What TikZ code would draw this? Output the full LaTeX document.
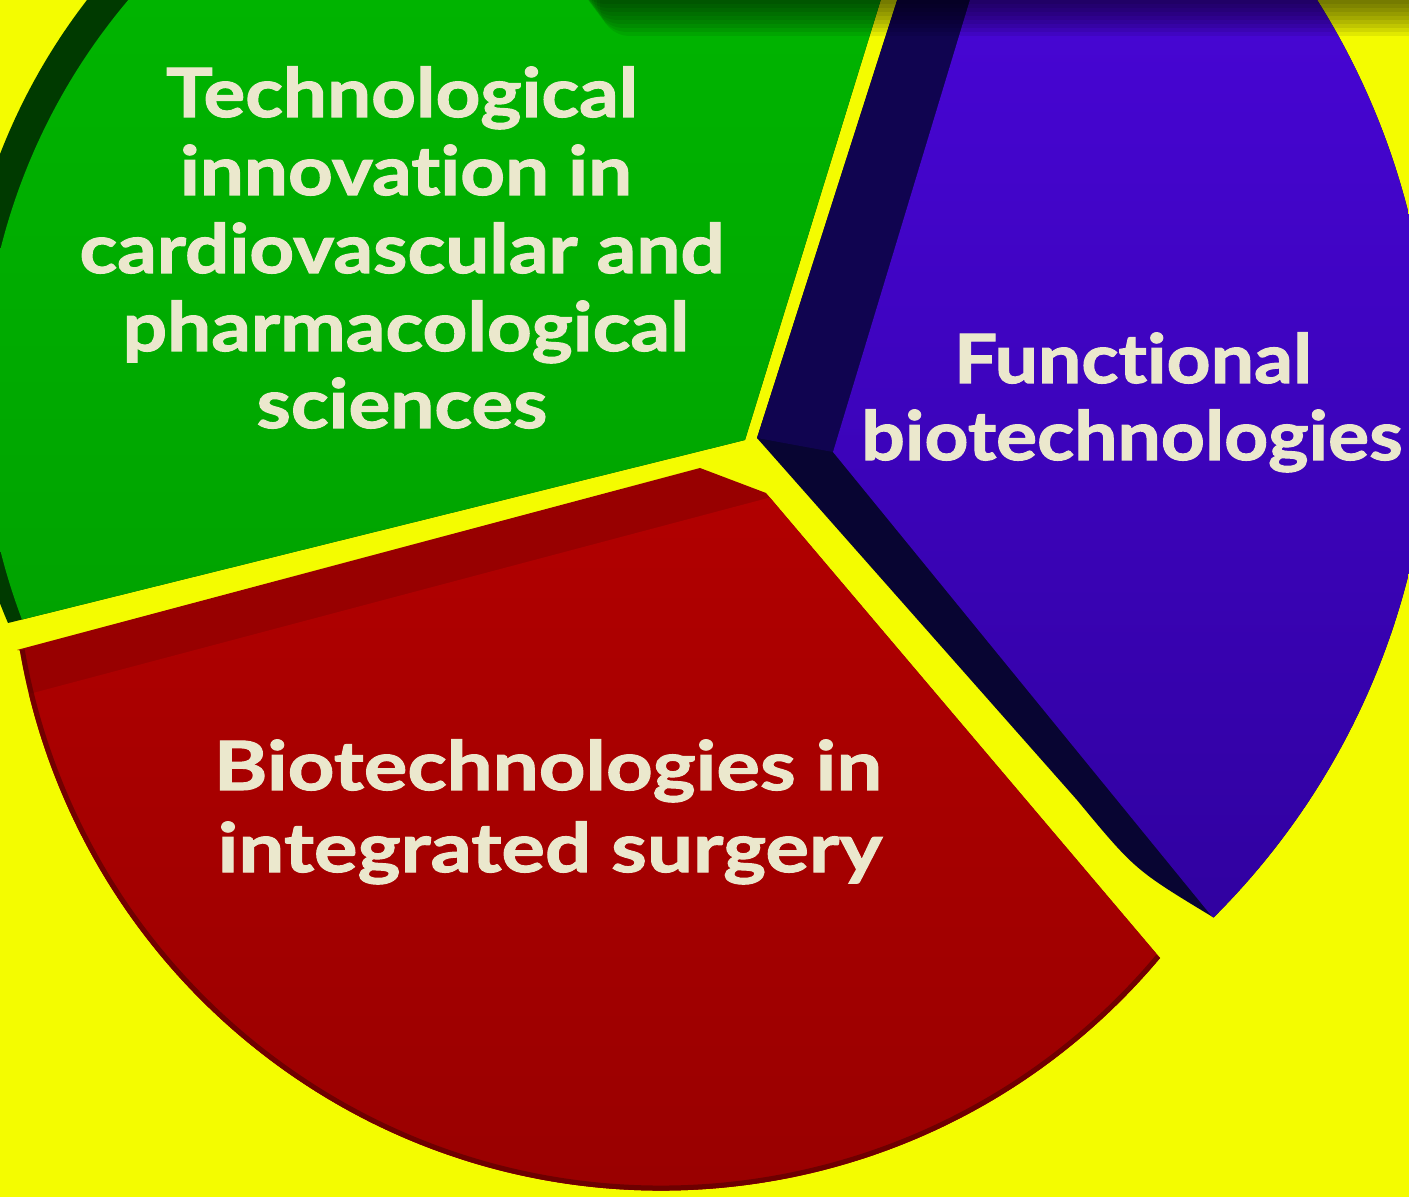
\documentclass[tikz,border=0pt]{standalone}
\usepackage{fontspec}
\setmainfont{Lato}
\newfontfamily\gfont{Lato}[Ligatures=NoCommon, FakeStretch=1.15, FakeBold=1.6]
\newfontfamily\bfont{Lato}[Ligatures=NoCommon, FakeStretch=1.13, FakeBold=1.6]
\newfontfamily\rfont{Lato}[Ligatures=NoCommon, FakeStretch=1.20, FakeBold=1.6]
\definecolor{bg}{RGB}{244,252,0}
\definecolor{gside}{RGB}{0,58,0}
\definecolor{gtop}{RGB}{0,186,0}
\definecolor{gbot}{RGB}{0,152,0}
\definecolor{rband}{RGB}{152,0,0}
\definecolor{rtop}{RGB}{178,0,0}
\definecolor{rbot}{RGB}{150,0,0}
\definecolor{rrim}{RGB}{80,0,0}
\definecolor{bsideA}{RGB}{16,4,80}
\definecolor{bsideB}{RGB}{8,5,50}
\definecolor{btop}{RGB}{72,6,214}
\definecolor{bbot}{RGB}{44,0,150}
\definecolor{cream}{RGB}{235,232,205}
\begin{document}
\begin{tikzpicture}[x=0.5pt,y=-0.5pt,
  lbl/.style={text=cream, inner sep=0pt, anchor=base},
  glbl/.style={lbl, font=\gfont\fontsize{34}{39}\selectfont\bfseries},
  blbl/.style={lbl, font=\bfont\fontsize{34}{39}\selectfont\bfseries},
  rlbl/.style={lbl, font=\rfont\fontsize{34}{39}\selectfont\bfseries}]
\useasboundingbox (0,0) rectangle (1409,1197);
\clip (0,0) rectangle (1409,1197);
\fill[bg] (0,0) rectangle (1409,1197);
\def\pathG{(8,623) arc[start angle=156.8, end angle=222.4, radius=620] -- (893,-40) -- (745,440) -- cycle}
\def\pathR{(17,650) -- (700,468) -- (766,493) -- (1160,958) arc[start angle=40, end angle=170.2, radius=651] -- cycle}
\def\pathB{(757,438) -- (910,-40) -- (1290,-40) arc[start angle=-35.97, end angle=45.1, radius=739] .. controls (1135,870) .. (1077,800) -- cycle}
% green sector
\begin{scope}
\clip \pathG;
\fill[gside] (-100,-100) rectangle (1500,1300);
\shade[top color=gtop, bottom color=gbot] (602,400) circle[radius=620];
\end{scope}
% red sector
\begin{scope}
\clip \pathR;
\fill[rband] (-100,-100) rectangle (1500,1300);
\shade[top color=rtop, bottom color=rbot] (-50,715) -- (900,463) -- (1500,1300) -- (-50,1300) -- cycle;
\draw[rrim, line width=5pt, opacity=0.6] (1160,958) arc[start angle=40, end angle=170.2, radius=651];
\end{scope}
% blue sector
\begin{scope}
\clip \pathB;
\fill[bsideB] (-100,-100) rectangle (1500,1300);
\fill[bsideA] (757,438) -- (910,-40) -- (982,-40) -- (833,452) -- cycle;
\shade[top color=btop, bottom color=bbot] (833,452) -- (982,-40) -- (1500,-40) -- (1500,1100) -- (1294,1017) -- cycle;
\end{scope}
% soft shadow at the top
\foreach \i in {0,...,9}{
  \fill[black, opacity=0.075, rounded corners=15pt] (600-3*\i,-100) rectangle (1500,36-4*\i);
}
% labels
\node[glbl] (g1) at (402,117) {Technological};
\node[glbl] (g2) at (406,195) {innovation in};
\node[glbl] (g3) at (402,273) {cardiovascular and};
\node[glbl] (g4) at (406,351) {pharmacological};
\node[glbl] (g5) at (402,428) {sciences};
\node[blbl] (b1) at (1133,383) {Functional};
\node[blbl] (b2) at (1132,460) {biotechnologies};
\node[rlbl] (r1) at (548,790) {Biotechnologies in};
\node[rlbl] (r2) at (550,872) {integrated surgery};
\end{tikzpicture}
\end{document}
